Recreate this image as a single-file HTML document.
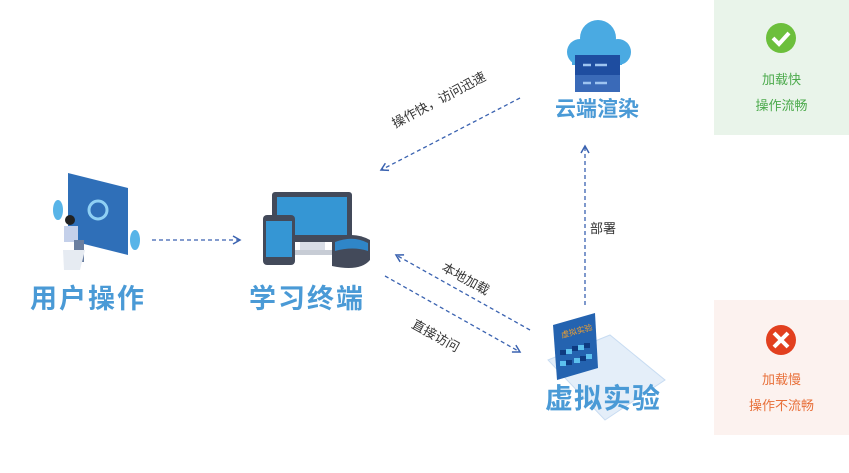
<!DOCTYPE html>
<html><head><meta charset="utf-8"><style>
body{margin:0;width:849px;height:473px;background:#fff;position:relative;overflow:hidden;font-family:"Liberation Sans","Noto Sans CJK SC",sans-serif}
.a{position:absolute;white-space:nowrap}
.big{font-size:27px;font-weight:bold;color:#4a9ad6;letter-spacing:2px}
.sm{font-size:13px;color:#333}
</style></head><body>
<div class="a" style="left:714px;top:0;width:135px;height:135px;background:#e9f4ea"></div>
<div class="a" style="left:714px;top:300px;width:135px;height:135px;background:#fcf2ef"></div>
<svg class="a" style="left:0;top:0" width="849" height="473">
<defs><marker id="m" markerWidth="10" markerHeight="10" refX="8" refY="5" orient="auto" markerUnits="userSpaceOnUse"><path d="M1,1 L8,5 L1,9" fill="none" stroke="#3a62b0" stroke-width="1.5"/></marker></defs>
<g stroke="#3a62b0" stroke-width="1.3" stroke-dasharray="4,3" fill="none" marker-end="url(#m)">
<line x1="152" y1="240" x2="240" y2="240"/>
<line x1="520" y1="98" x2="381" y2="170"/>
<line x1="585" y1="305" x2="585" y2="146"/>
<line x1="530" y1="330" x2="396" y2="255"/>
<line x1="385" y1="276" x2="520" y2="352"/>
</g>
<circle cx="781" cy="38" r="15" fill="#6cbf3c"/><path d="M773,38 l6,6 l10,-11" stroke="#fff" stroke-width="4" fill="none"/>
<circle cx="781" cy="340" r="15" fill="#e2401f"/><path d="M774,333 l14,14 M788,333 l-14,14" stroke="#fff" stroke-width="4"/>
<g fill="#4aaae2"><circle cx="598" cy="38" r="18"/><circle cx="580" cy="52" r="13"/><circle cx="618" cy="52" r="13"/><rect x="572" y="45" width="50" height="20"/></g>
<rect x="575" y="55" width="45" height="20" fill="#1e4da0"/><rect x="575" y="75" width="45" height="17" fill="#3a6ab8"/>
<path d="M583,65h8m4,0h12M583,83h8m4,0h12" stroke="#9ec4f0" stroke-width="2.5"/>
<path d="M68,173 L128,188 L128,255 L68,240Z" fill="#2f6fb8"/><circle cx="98" cy="210" r="9" fill="none" stroke="#8fd0f4" stroke-width="3"/>
<ellipse cx="58" cy="210" rx="5" ry="10" fill="#58b4e8"/><ellipse cx="135" cy="240" rx="5" ry="10" fill="#58b4e8"/>
<circle cx="70" cy="220" r="5" fill="#222"/><rect x="64" y="226" width="14" height="16" fill="#c4d0ea"/><rect x="74" y="240" width="10" height="22" fill="#6b7fa0"/><path d="M63,250 h22 l-5,20 h-16z" fill="#e6ebf2"/>
<rect x="272" y="192" width="80" height="50" rx="3" fill="#434a5a"/><rect x="277" y="197" width="70" height="38" fill="#3596d4"/><rect x="300" y="242" width="25" height="10" fill="#d8dde6"/><rect x="292" y="250" width="42" height="5" fill="#c7ccd5"/>
<rect x="263" y="215" width="32" height="50" rx="4" fill="#434a5a"/><rect x="266" y="221" width="26" height="36" fill="#3596d4"/>
<path d="M332,240 q20,-10 38,0 l0,20 q-10,12 -38,6z" fill="#434a5a"/><path d="M335,242 q18,-7 33,1 l0,8 q-15,-5 -33,0z" fill="#2f86c8"/>
<path d="M548,360 L610,335 L665,380 L605,420 Z" fill="#e4eef9" stroke="#c8dcf2"/>
<path d="M553,325 L595,313 L598,368 L557,380 Z" fill="#2463b0"/>
<text x="562" y="338" font-size="8" fill="#f0a030" transform="rotate(-15 562 338)">虚拟实验</text>
<g fill="#0e3a80"><rect x="560" y="350" width="6" height="5"/><rect x="572" y="346" width="6" height="5"/><rect x="584" y="343" width="6" height="5"/><rect x="566" y="360" width="6" height="5"/><rect x="580" y="356" width="6" height="5"/></g>
<g fill="#5cc0ee"><rect x="566" y="349" width="6" height="5"/><rect x="578" y="345" width="6" height="5"/><rect x="560" y="361" width="6" height="5"/><rect x="574" y="358" width="6" height="5"/><rect x="586" y="354" width="6" height="5"/></g>
</svg>
<div class="a big" style="left:30px;top:277px">用户操作</div>
<div class="a big" style="left:249px;top:277px">学习终端</div>
<div class="a big" style="left:545px;top:377px;font-size:28px;letter-spacing:1px">虚拟实验</div>
<div class="a big" style="left:555px;top:93px;font-size:21px;letter-spacing:0">云端渲染</div>
<div class="a" style="left:714px;width:135px;text-align:center;top:67px;font-size:13px;color:#4caa4c;line-height:26px">加载快<br>操作流畅</div>
<div class="a" style="left:714px;width:135px;text-align:center;top:367px;font-size:13px;color:#e8703a;line-height:26px">加载慢<br>操作不流畅</div>
<div class="a sm" style="left:388px;top:115px;transform:rotate(-28deg);transform-origin:left top">操作快，访问迅速</div>
<div class="a sm" style="left:590px;top:218px">部署</div>
<div class="a sm" style="left:448px;top:257px;transform:rotate(29deg);transform-origin:left top">本地加载</div>
<div class="a sm" style="left:418px;top:314px;transform:rotate(29deg);transform-origin:left top">直接访问</div>
</body></html>
